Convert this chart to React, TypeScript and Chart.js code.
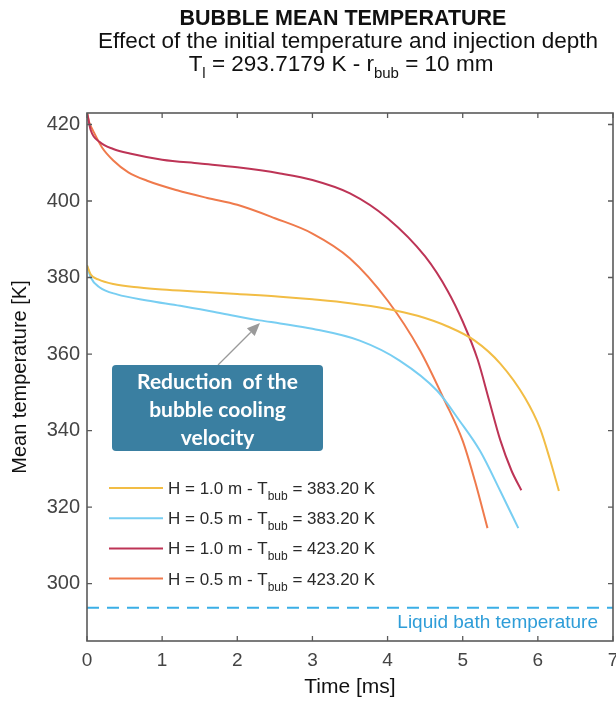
import React, { useEffect, useRef } from 'react';
import { Chart, registerables } from 'chart.js';

Chart.register(...registerables);

// ---------- data ----------
const depths = ['1.0', '0.5', '1.0', '0.5'];
const initialTemps = ['383.20', '383.20', '423.20', '423.20'];
const liquidTemp = 293.7179;

const yellowTime = [0, 0.05, 0.15, 0.35, 0.7, 1.0, 1.5, 2.0, 2.57, 3.0, 3.5, 4.0, 4.4, 4.8, 5.16, 5.5, 5.83, 6.03, 6.16, 6.28];
const yellowTemp = [383.2, 380.8, 379.5, 378.3, 377.4, 376.9, 376.3, 375.7, 375.0, 374.3, 373.3, 371.8, 370.0, 367.2, 363.5, 357.5, 348.5, 340.5, 332.5, 324.2];

const blueTime = [0, 0.05, 0.17, 0.4, 0.8, 1.24, 1.8, 2.3, 2.57, 3.0, 3.63, 4.16, 4.66, 4.96, 5.23, 5.5, 5.74];
const blueTemp = [383.2, 380.0, 377.4, 375.6, 374.0, 372.6, 370.6, 368.8, 368.0, 366.6, 363.5, 358.3, 350.4, 342.5, 334.7, 324.2, 314.5];

const redTime = [0, 0.05, 0.17, 0.35, 0.57, 1.0, 1.5, 2.0, 2.57, 3.0, 3.5, 4.0, 4.5, 4.8, 5.0, 5.2, 5.35, 5.5, 5.65, 5.78];
const redTemp = [423.2, 418.5, 415.4, 413.6, 412.4, 410.8, 409.8, 408.8, 407.2, 405.5, 402.0, 395.5, 385.5, 376.5, 368.5, 358.5, 348.0, 337.5, 329.5, 324.4];

const orangeTime = [0, 0.03, 0.08, 0.2, 0.35, 0.55, 0.8, 1.2, 1.6, 2.0, 2.5, 3.0, 3.5, 4.0, 4.43, 4.76, 5.0, 5.16, 5.33];
const orangeTemp = [423.2, 420.5, 418.4, 414.0, 410.6, 407.5, 405.3, 402.8, 400.8, 399.0, 395.5, 391.5, 385.0, 374.0, 361.0, 347.8, 337.3, 327.0, 314.5];

const xTickValues = [0, 1, 2, 3, 4, 5, 6, 7];
const yTickValues = [300, 320, 340, 360, 380, 400, 420];

const titleLine1 = 'BUBBLE MEAN TEMPERATURE';
const titleLine2 = 'Effect of the initial temperature and injection depth';
const annotationLines = ['Reduction  of the', 'bubble cooling', 'velocity'];

// ---------- styles ----------
const seriesColors = ['#F2BD45', '#78CEF2', '#BD3456', '#EF7A4C'];
const bathColor = '#3AAEE6';
const FONT = '"Liberation Sans", Arial, Helvetica, sans-serif';

type Part = { text: string; sub?: boolean };

function drawRich(
  ctx: CanvasRenderingContext2D,
  parts: Part[],
  x: number,
  y: number,
  align: 'left' | 'center',
  font: string,
  subFont: string,
  subDy: number
) {
  let w = 0;
  for (const p of parts) {
    ctx.font = p.sub ? subFont : font;
    w += ctx.measureText(p.text).width;
  }
  let cx = align === 'center' ? x - w / 2 : x;
  ctx.textAlign = 'left';
  ctx.textBaseline = 'alphabetic';
  for (const p of parts) {
    ctx.font = p.sub ? subFont : font;
    ctx.fillText(p.text, cx, p.sub ? y + subDy : y);
    cx += ctx.measureText(p.text).width;
  }
}

function zip(t: number[], v: number[]) {
  return t.map((x, i) => ({ x, y: v[i] }));
}

const overlayPlugin = {
  id: 'overlay',
  afterDatasetsDraw(chart: any) {
    const ctx: CanvasRenderingContext2D = chart.ctx;
    const { left, right, top, bottom } = chart.chartArea;
    const xs = chart.scales.x;
    const ys = chart.scales.y;
    ctx.save();

    // frame + inward ticks
    ctx.strokeStyle = '#5a5a5a';
    ctx.lineWidth = 1.6;
    ctx.strokeRect(left, top, right - left, bottom - top);
    ctx.lineWidth = 1.3;
    ctx.beginPath();
    for (const v of xTickValues) {
      const px = xs.getPixelForValue(v);
      ctx.moveTo(px, bottom);
      ctx.lineTo(px, bottom - 5);
      ctx.moveTo(px, top);
      ctx.lineTo(px, top + 5);
    }
    for (const v of yTickValues) {
      const py = ys.getPixelForValue(v);
      ctx.moveTo(left, py);
      ctx.lineTo(left + 5, py);
      ctx.moveTo(right, py);
      ctx.lineTo(right - 5, py);
    }
    ctx.stroke();

    // legend
    const lx0 = left + 22;
    const lx1 = left + 76;
    const tx = left + 81;
    for (let i = 0; i < depths.length; i++) {
      const cy = top + 375 + i * 30.2;
      ctx.strokeStyle = seriesColors[i];
      ctx.lineWidth = 2;
      ctx.beginPath();
      ctx.moveTo(lx0, cy);
      ctx.lineTo(lx1, cy);
      ctx.stroke();
      ctx.fillStyle = '#2a2a2a';
      drawRich(
        ctx,
        [
          { text: `H = ${depths[i]} m - T` },
          { text: 'bub', sub: true },
          { text: ` = ${initialTemps[i]} K` },
        ],
        tx,
        cy + 6,
        'left',
        `17px ${FONT}`,
        `12px ${FONT}`,
        6
      );
    }

    // liquid bath label
    ctx.fillStyle = '#2E9DD8';
    ctx.font = `19px ${FONT}`;
    ctx.textAlign = 'right';
    ctx.textBaseline = 'alphabetic';
    ctx.fillText('Liquid bath temperature', right - 15, ys.getPixelForValue(liquidTemp) + 20);

    // annotation arrow
    const ax0 = left + 131;
    const ay0 = top + 252;
    const ax1 = left + 173;
    const ay1 = top + 210;
    ctx.strokeStyle = '#9a9a9a';
    ctx.fillStyle = '#9a9a9a';
    ctx.lineWidth = 1.3;
    const ang = Math.atan2(ay1 - ay0, ax1 - ax0);
    const hl = 13;
    const bx = ax1 - hl * Math.cos(ang);
    const by = ay1 - hl * Math.sin(ang);
    ctx.beginPath();
    ctx.moveTo(ax0, ay0);
    ctx.lineTo(bx, by);
    ctx.stroke();
    ctx.beginPath();
    ctx.moveTo(ax1, ay1);
    ctx.lineTo(bx + 5.5 * Math.sin(ang), by - 5.5 * Math.cos(ang));
    ctx.lineTo(bx - 5.5 * Math.sin(ang), by + 5.5 * Math.cos(ang));
    ctx.closePath();
    ctx.fill();

    // annotation box
    const bxl = left + 25;
    const byt = top + 252;
    const bw = 211;
    const bh = 86;
    ctx.fillStyle = '#3A7FA1';
    ctx.beginPath();
    (ctx as any).roundRect(bxl, byt, bw, bh, 4);
    ctx.fill();
    ctx.fillStyle = '#ffffff';
    ctx.font = `bold 21px Lato, "Open Sans", sans-serif`;
    ctx.textAlign = 'center';
    ctx.textBaseline = 'middle';
    annotationLines.forEach((s, i) => {
      ctx.fillText(s, bxl + bw / 2, byt + 17 + i * 28);
    });

    ctx.restore();
  },
  afterDraw(chart: any) {
    const ctx: CanvasRenderingContext2D = chart.ctx;
    ctx.save();
    ctx.fillStyle = '#111';
    ctx.textAlign = 'center';
    ctx.textBaseline = 'alphabetic';
    ctx.font = `bold 21.5px ${FONT}`;
    ctx.fillText(titleLine1, 343, 25);
    ctx.font = `22.5px ${FONT}`;
    ctx.fillText(titleLine2, 348, 48);
    drawRich(
      ctx,
      [
        { text: 'T' },
        { text: 'l', sub: true },
        { text: ` = ${liquidTemp} K - r` },
        { text: 'bub', sub: true },
        { text: ' = 10 mm' },
      ],
      341,
      71,
      'center',
      `22.5px ${FONT}`,
      `15px ${FONT}`,
      7
    );
    ctx.restore();
  },
};

export default function App() {
  const ref = useRef<HTMLCanvasElement | null>(null);
  useEffect(() => {
    if (!ref.current) return;
    const labels = depths.map((d, i) => `H = ${d} m - Tbub = ${initialTemps[i]} K`);
    const chart = new Chart(ref.current, {
      type: 'line',
      data: {
        datasets: [
          { label: labels[0], data: zip(yellowTime, yellowTemp), borderColor: seriesColors[0] },
          { label: labels[1], data: zip(blueTime, blueTemp), borderColor: seriesColors[1] },
          { label: labels[2], data: zip(redTime, redTemp), borderColor: seriesColors[2] },
          { label: labels[3], data: zip(orangeTime, orangeTemp), borderColor: seriesColors[3] },
          {
            label: 'Liquid bath temperature',
            data: [
              { x: 0, y: liquidTemp },
              { x: 7, y: liquidTemp },
            ],
            borderColor: bathColor,
            borderDash: [12, 8],
            cubicInterpolationMode: 'default',
            tension: 0,
          },
        ].map((d: any) => ({
          borderWidth: 2,
          pointRadius: 0,
          fill: false,
          cubicInterpolationMode: 'monotone',
          ...d,
        })),
      },
      options: {
        animation: false,
        responsive: false,
        maintainAspectRatio: false,
        layout: { padding: { top: 113, right: 3, left: 0, bottom: 0 } },
        plugins: { legend: { display: false }, tooltip: { enabled: false }, title: { display: false } },
        scales: {
          x: {
            type: 'linear',
            min: 0,
            max: 7,
            ticks: { stepSize: 1, padding: 8, color: '#444', font: { size: 19, family: FONT } },
            grid: { display: false, drawTicks: false },
            border: { display: false },
            title: {
              display: true,
              text: 'Time [ms]',
              color: '#111',
              font: { size: 21, family: FONT },
              padding: { top: 0, bottom: 4 },
            },
            afterFit: (s: any) => {
              s.height = 63;
              s.paddingLeft = 0;
              s.paddingRight = 0;
            },
          },
          y: {
            type: 'linear',
            min: 285,
            max: 423,
            ticks: { stepSize: 20, includeBounds: false, padding: 7, color: '#444', font: { size: 20, family: FONT } },
            grid: { display: false, drawTicks: false },
            border: { display: false },
            title: {
              display: true,
              text: 'Mean temperature [K]',
              color: '#111',
              font: { size: 20, family: FONT },
              padding: { top: 8, bottom: 0 },
            },
            afterFit: (s: any) => {
              s.width = 87;
              s.paddingTop = 0;
              s.paddingBottom = 0;
            },
          },
        },
      },
      plugins: [overlayPlugin],
    } as any);
    return () => chart.destroy();
  }, []);

  return (
    <div style={{ position: 'fixed', left: 0, top: 0, width: 616, height: 704, background: '#fff' }}>
      <canvas ref={ref} width={616} height={704} style={{ width: 616, height: 704 }} />
    </div>
  );
}
